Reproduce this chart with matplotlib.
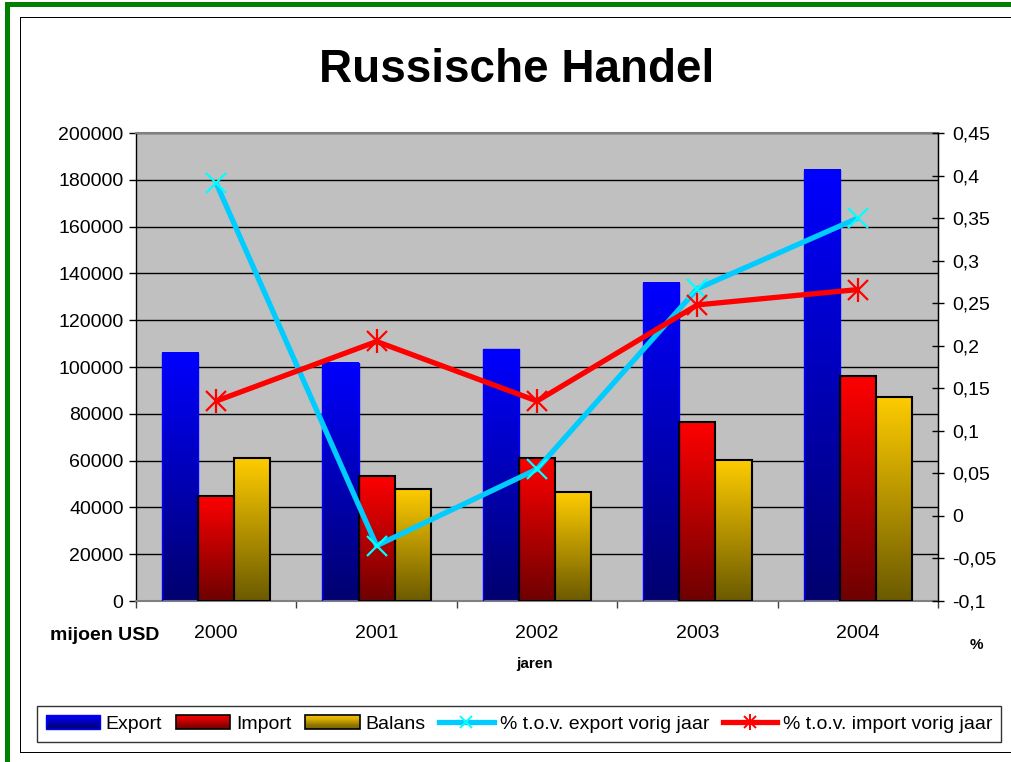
import numpy as np
import matplotlib
matplotlib.use("Agg")
import matplotlib.pyplot as plt
from matplotlib.patches import Rectangle, Patch
from matplotlib.lines import Line2D
from matplotlib.legend_handler import HandlerBase, HandlerTuple
from matplotlib.colors import to_rgb

plt.rcParams['font.family'] = ['Liberation Sans', 'DejaVu Sans']

# ---------------- data ----------------
years = ['2000', '2001', '2002', '2003', '2004']
export_vals = [106000, 101800, 107600, 135900, 184200]
import_vals = [45000, 53600, 61000, 76500, 96200]
balans_vals = [61000, 48000, 46500, 60300, 87300]
export_pct = [0.391, -0.035, 0.055, 0.267, 0.350]
import_pct = [0.135, 0.205, 0.135, 0.248, 0.266]

left_ticks = [0, 20000, 40000, 60000, 80000, 100000, 120000, 140000, 160000, 180000, 200000]
right_ticks = [-0.1, -0.05, 0, 0.05, 0.1, 0.15, 0.2, 0.25, 0.3, 0.35, 0.4, 0.45]
right_labels = ['-0,1', '-0,05', '0', '0,05', '0,1', '0,15', '0,2', '0,25', '0,3', '0,35', '0,4', '0,45']

series_names = ['Export', 'Import', 'Balans', '% t.o.v. export vorig jaar', '% t.o.v. import vorig jaar']

# ---------------- style ----------------
grad_export = ('#0000FF', '#00006E')
grad_import = ('#FF0000', '#6E0000')
grad_balans = ('#FFCC00', '#6B5A00')
edge_export = '#0000FF'
edge_other = 'black'
cyan_line = '#00CCFF'
cyan_mark = '#00FFFF'
red_line = '#FF0000'

W, H = 1011, 762
fig = plt.figure(figsize=(W / 100, H / 100), dpi=100)
fig.patch.set_facecolor('white')

ax = fig.add_axes([136 / W, 1 - 601 / H, (938 - 136) / W, (601 - 133) / H])
ax.set_facecolor('#C0C0C0')

n = len(years)
x = np.arange(n)
bw = 0.225


def gradient_bar(ax, xc, h, top, bot, edge, lw):
    t = np.array(to_rgb(top))
    b = np.array(to_rgb(bot))
    steps = np.linspace(0, 1, 256)[:, None]
    img = b[None, :] * (1 - steps) + t[None, :] * steps  # row 0 bottom
    img = img[:, None, :]
    ax.imshow(img, extent=[xc - bw / 2, xc + bw / 2, 0, h], origin='lower',
              aspect='auto', zorder=2, interpolation='bilinear')
    ax.bar(xc, h, width=bw, facecolor='none', edgecolor=edge, linewidth=lw, zorder=3)


for i in range(n):
    gradient_bar(ax, x[i] - bw, export_vals[i], *grad_export, edge_export, 1.0)
    gradient_bar(ax, x[i], import_vals[i], *grad_import, edge_other, 1.5)
    gradient_bar(ax, x[i] + bw, balans_vals[i], *grad_balans, edge_other, 1.5)

ax.set_xlim(-0.5, n - 0.5)
ax.set_ylim(0, 200000)
ax.set_yticks(left_ticks)
ax.set_yticklabels([str(v) for v in left_ticks])
ax.yaxis.grid(True, color='black', linewidth=1.0, zorder=1)
ax.set_axisbelow(True)
ax.tick_params(axis='y', direction='out', length=5, width=1, pad=4, labelsize=14, colors='black')

ax.set_xticks(x)
ax.set_xticklabels(years)
ax.set_xticks(np.arange(n + 1) - 0.5, minor=True)
ax.tick_params(axis='x', which='major', length=0, pad=17, labelsize=14)
ax.tick_params(axis='x', which='minor', direction='out', length=5, width=1, color='#404040')

for s in ['left', 'right']:
    ax.spines[s].set_color('black')
    ax.spines[s].set_linewidth(1.0)
ax.spines['top'].set_color('#808080')
ax.spines['top'].set_linewidth(1.5)
ax.spines['bottom'].set_color('#808080')
ax.spines['bottom'].set_linewidth(1.5)

ax2 = ax.twinx()
ax2.set_ylim(-0.1, 0.45)
ax2.set_yticks(right_ticks)
ax2.set_yticklabels(right_labels)
ax2.tick_params(axis='y', direction='inout', length=8, width=1, pad=6, labelsize=14)
for s in ['left', 'top', 'bottom']:
    ax2.spines[s].set_visible(False)
ax2.spines['right'].set_color('black')

ax2.plot(x, export_pct, color=cyan_line, linewidth=3.8, zorder=4, solid_capstyle='butt')
ax2.plot(x, export_pct, linestyle='none', marker='x', markersize=14, markeredgewidth=1.6,
         color=cyan_mark, zorder=5)
ax2.plot(x, import_pct, color=red_line, linewidth=3.8, zorder=4, solid_capstyle='butt')
ax2.plot(x, import_pct, linestyle='none', marker='x', markersize=14, markeredgewidth=1.6,
         color=red_line, zorder=5)
ax2.plot(x, import_pct, linestyle='none', marker='|', markersize=17, markeredgewidth=1.6,
         color=red_line, zorder=5)

# ---------------- texts ----------------
fig.text(517 / W, 1 - 70 / H, 'Russische Handel', ha='center', va='center',
         fontsize=33, fontweight='bold')
fig.text(105 / W, 1 - 636 / H, 'mijoen USD', ha='center', va='center',
         fontsize=14, fontweight='bold')
fig.text(535 / W, 1 - 664 / H, 'jaren', ha='center', va='center',
         fontsize=11, fontweight='bold')
fig.text(976 / W, 1 - 645 / H, '%', ha='center', va='center',
         fontsize=11, fontweight='bold')


# ---------------- legend ----------------
class GradHandler(HandlerBase):
    def __init__(self, top, bot, edge, lw):
        super().__init__()
        self.top = np.array(to_rgb(top))
        self.bot = np.array(to_rgb(bot))
        self.edge = edge
        self.lw = lw

    def create_artists(self, legend, orig_handle, xdescent, ydescent, width, height,
                       fontsize, trans):
        arts = []
        k = 12
        for j in range(k):
            f = (j + 0.5) / k
            c = self.bot * (1 - f) + self.top * f
            arts.append(Rectangle((-xdescent, -ydescent + height * j / k), width, height / k,
                                  facecolor=c, edgecolor='none', transform=trans))
        arts.append(Rectangle((-xdescent, -ydescent), width, height, fill=False,
                              edgecolor=self.edge, linewidth=self.lw, transform=trans))
        return arts


h_exp = Patch(label=series_names[0])
h_imp = Patch(label=series_names[1])
h_bal = Patch(label=series_names[2])
h_cy = Line2D([], [], color=cyan_line, linewidth=3.8, marker='x', markersize=9,
              markeredgewidth=1.4, markeredgecolor=cyan_mark)
h_rd1 = Line2D([], [], color=red_line, linewidth=3.8, marker='x', markersize=9,
               markeredgewidth=1.4)
h_rd2 = Line2D([], [], color=red_line, linewidth=0, marker='|', markersize=11,
               markeredgewidth=1.4)

leg = fig.legend([h_exp, h_imp, h_bal, h_cy, (h_rd1, h_rd2)], series_names,
                 loc='center', bbox_to_anchor=(519 / W, 1 - 724 / H), ncol=5,
                 fontsize=14, frameon=True, fancybox=False, edgecolor='black',
                 handlelength=2.8, handletextpad=0.3, columnspacing=0.7,
                 borderpad=0.45, borderaxespad=0, numpoints=1,
                 handler_map={h_exp: GradHandler(*grad_export, edge_export, 1.0),
                              h_imp: GradHandler(*grad_import, edge_other, 1.2),
                              h_bal: GradHandler(*grad_balans, edge_other, 1.2),
                              tuple: HandlerTuple(ndivide=1, pad=0)})
leg.get_frame().set_linewidth(1.0)

# ---------------- frames ----------------
def frect(x0, y0, x1, y1, color):
    fig.add_artist(Rectangle((x0 / W, 1 - y1 / H), (x1 - x0) / W, (y1 - y0) / H,
                             transform=fig.transFigure, facecolor=color, edgecolor='none',
                             zorder=10))

frect(5, 2, 10, H, '#008000')
frect(5, 2, W, 7, '#008000')
frect(19.5, 16.5, 21, 752.5, 'black')
frect(19.5, 16.5, W, 18, 'black')
frect(19.5, 751.5, W, 753, 'black')

fig.savefig('out.png', dpi=100)
